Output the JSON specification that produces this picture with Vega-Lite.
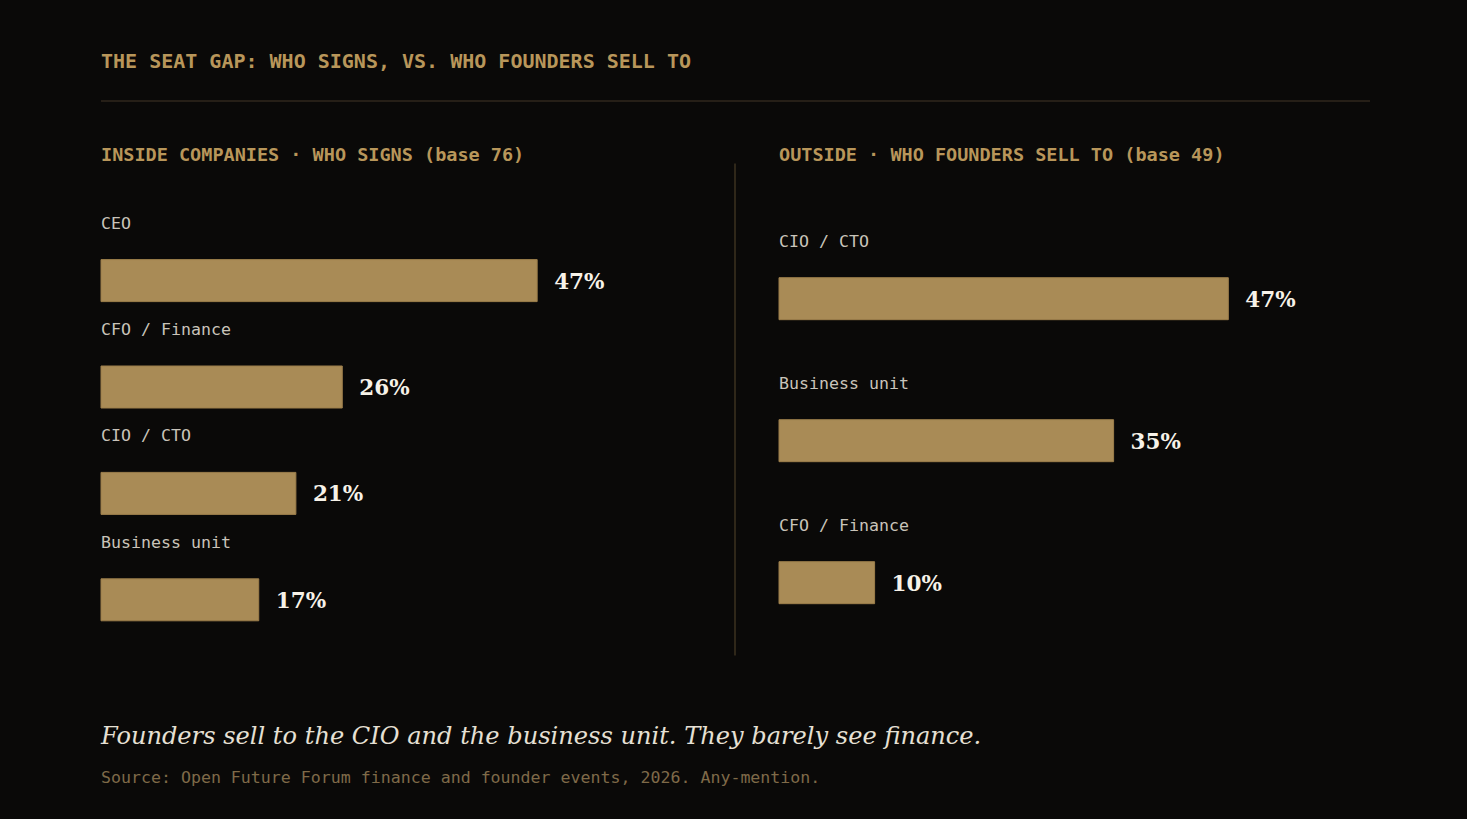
{
  "$schema": "https://vega.github.io/schema/vega-lite/v6.json",
  "background": "#0a0908",
  "padding": {"left": 100, "right": 98, "top": 0, "bottom": 0},
  "autosize": {"type": "pad"},
  "bounds": "flush",
  "spacing": 62,
  "datasets": {
    "seats": [
      {"side": "inside", "role": "CEO", "share": 0.47},
      {"side": "inside", "role": "CFO / Finance", "share": 0.26},
      {"side": "inside", "role": "CIO / CTO", "share": 0.21},
      {"side": "inside", "role": "Business unit", "share": 0.17},
      {"side": "outside", "role": "CIO / CTO", "share": 0.47},
      {"side": "outside", "role": "Business unit", "share": 0.35},
      {"side": "outside", "role": "CFO / Finance", "share": 0.10}
    ]
  },
  "config": {"view": {"stroke": null}, "axis": {"grid": false}},
  "vconcat": [
    {
      "width": 1269,
      "height": 101,
      "data": {"values": [{}]},
      "title": {
        "text": "THE SEAT GAP: WHO SIGNS, VS. WHO FOUNDERS SELL TO",
        "orient": "bottom",
        "anchor": "start",
        "frame": "group",
        "baseline": "alphabetic",
        "offset": -34,
        "font": "DejaVu Sans Mono",
        "fontSize": 20,
        "fontWeight": "bold",
        "color": "#b8965a"
      },
      "mark": {"type": "rule", "color": "#433726", "strokeWidth": 1},
      "encoding": {
        "x": {"datum": 0, "type": "quantitative", "scale": {"domain": [0, 1]}, "axis": null},
        "x2": {"datum": 1},
        "y": {"datum": 0, "type": "quantitative", "scale": {"domain": [0, 1]}, "axis": null}
      }
    },
    {
      "bounds": "flush",
      "spacing": 214,
      "hconcat": [
        {
          "width": 464,
          "height": 492,
          "data": {"name": "seats"},
          "transform": [{"filter": "datum.side === 'inside'"}],
          "title": {
            "text": "INSIDE COMPANIES · WHO SIGNS (base 76)",
            "orient": "top",
            "anchor": "start",
            "frame": "group",
            "baseline": "alphabetic",
            "offset": -16.5,
            "font": "DejaVu Sans Mono",
            "fontSize": 18.5,
            "fontWeight": "bold",
            "color": "#b8965a"
          },
          "encoding": {
            "y": {"field": "role", "type": "nominal", "sort": null, "scale": {"paddingInner": 0, "paddingOuter": 0.312, "align": 0.97}, "axis": null}
          },
          "layer": [
            {
              "mark": {"type": "bar", "size": 42, "color": "#a98b56", "stroke": "#9c7e4b", "strokeWidth": 1},
              "encoding": {"x": {"field": "share", "type": "quantitative", "scale": {"domain": [0, 0.5]}, "axis": null}}
            },
            {
              "mark": {"type": "text", "align": "left", "baseline": "alphabetic", "dy": -52, "font": "DejaVu Sans Mono", "fontSize": 16.6, "color": "#c9c4ba"},
              "encoding": {"x": {"datum": 0, "type": "quantitative"}, "text": {"field": "role"}}
            },
            {
              "mark": {"type": "text", "align": "left", "baseline": "alphabetic", "dx": 17, "dy": 8, "font": "DejaVu Serif", "fontSize": 21.5, "fontWeight": "bold", "color": "#f7f2e8"},
              "encoding": {"x": {"field": "share", "type": "quantitative"}, "text": {"field": "share", "format": ".0%"}}
            }
          ]
        },
        {
          "width": 478,
          "height": 492,
          "data": {"name": "seats"},
          "transform": [{"filter": "datum.side === 'outside'"}],
          "title": {
            "text": "OUTSIDE · WHO FOUNDERS SELL TO (base 49)",
            "orient": "top",
            "anchor": "start",
            "frame": "group",
            "baseline": "alphabetic",
            "offset": -16.5,
            "font": "DejaVu Sans Mono",
            "fontSize": 18.5,
            "fontWeight": "bold",
            "color": "#b8965a"
          },
          "encoding": {
            "y": {
              "field": "role",
              "type": "nominal",
              "sort": null,
              "scale": {"paddingInner": 0, "paddingOuter": 0.2324, "align": 0.98},
              "axis": {"orient": "left", "offset": 44.5, "domain": true, "domainColor": "#2f2719", "domainWidth": 2, "ticks": false, "labels": false, "title": null, "grid": false}
            }
          },
          "layer": [
            {
              "mark": {"type": "bar", "size": 42, "color": "#a98b56", "stroke": "#9c7e4b", "strokeWidth": 1},
              "encoding": {"x": {"field": "share", "type": "quantitative", "scale": {"domain": [0, 0.5]}, "axis": null}}
            },
            {
              "mark": {"type": "text", "align": "left", "baseline": "alphabetic", "dy": -52, "font": "DejaVu Sans Mono", "fontSize": 16.6, "color": "#c9c4ba"},
              "encoding": {"x": {"datum": 0, "type": "quantitative"}, "text": {"field": "role"}}
            },
            {
              "mark": {"type": "text", "align": "left", "baseline": "alphabetic", "dx": 17, "dy": 8, "font": "DejaVu Serif", "fontSize": 21.5, "fontWeight": "bold", "color": "#f7f2e8"},
              "encoding": {"x": {"field": "share", "type": "quantitative"}, "text": {"field": "share", "format": ".0%"}}
            }
          ]
        }
      ]
    },
    {
      "width": 1269,
      "height": 594,
      "data": {"values": [{}]},
      "mark": {"type": "rule"},
      "encoding": {},
      "title": {
        "text": "Founders sell to the CIO and the business unit. They barely see finance.",
        "subtitle": "Source: Open Future Forum finance and founder events, 2026. Any-mention.",
        "orient": "bottom",
        "anchor": "start",
        "frame": "group",
        "baseline": "alphabetic",
        "offset": -75,
        "font": "DejaVu Serif",
        "fontSize": 24.1,
        "fontStyle": "italic",
        "fontWeight": "normal",
        "color": "#e6e0d4",
        "subtitleFont": "DejaVu Sans Mono",
        "subtitleFontSize": 16.6,
        "subtitleFontWeight": "normal",
        "subtitleColor": "#7f6a48",
        "subtitlePadding": 15
      }
    }
  ]
}
